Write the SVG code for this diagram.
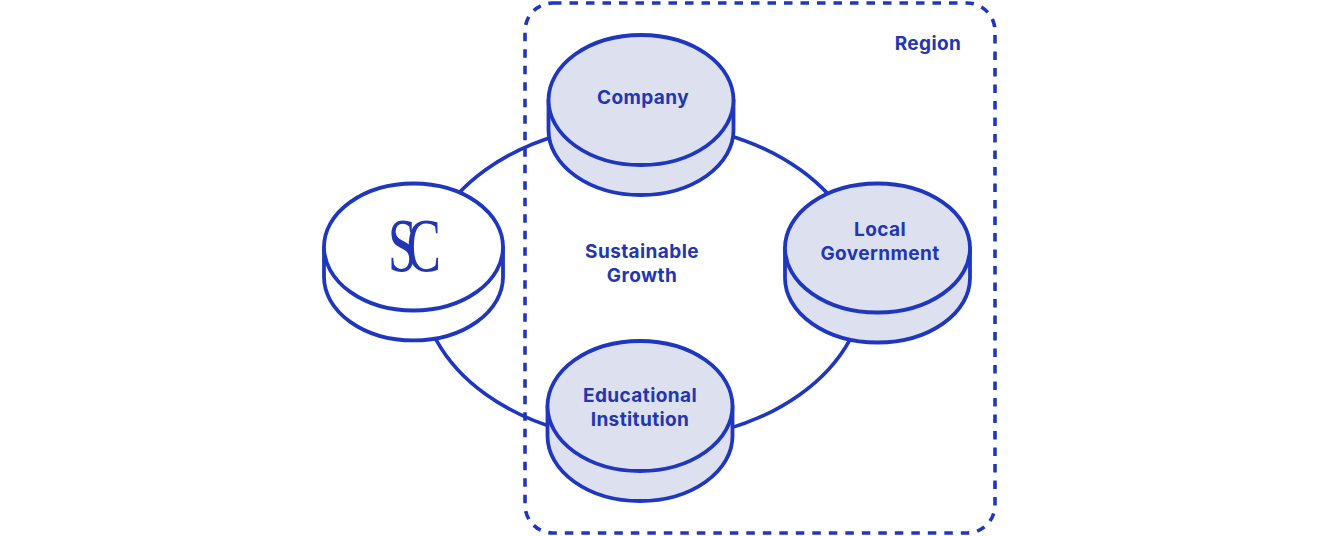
<svg xmlns="http://www.w3.org/2000/svg" width="1320" height="536" viewBox="0 0 1320 536">
<style>
.bg{fill:#ffffff}
.ln{fill:none;stroke:#1f37bf;stroke-width:3.6}
.region{fill:none;stroke:#1f37bf;stroke-width:3.6;stroke-dasharray:8.5 8}
.disc{fill:#dde0ef;stroke:#1f37bf;stroke-width:3.8;stroke-linejoin:round}
.disc.white{fill:#ffffff}
.lbl{font-family:Inter,"Noto Sans","Liberation Sans",sans-serif;font-weight:700;font-size:19px;letter-spacing:0.4px;fill:#2236b4;text-anchor:middle}
.logo{font-family:"Liberation Serif","DejaVu Serif",serif;font-size:76px;letter-spacing:-15px;fill:#2236b4}
</style>
<rect class="bg" x="0" y="0" width="1320" height="536"/>
<g id="region">
<rect class="region" x="525" y="3" width="470" height="530" rx="28"/>
<text class="lbl" x="928" y="50">Region</text>
</g>
<g id="connectors">
<ellipse class="ln" cx="643" cy="282" rx="222" ry="159"/>
</g>
<g id="center-label">
<text class="lbl" x="642" y="258">Sustainable</text>
<text class="lbl" x="642" y="282">Growth</text>
</g>
<g id="sc">
<path class="disc white" d="M324,247 L324,277 A89.5,63.5 0 0 0 503,277 L503,247 Z"/>
<ellipse class="disc white" cx="413.5" cy="247" rx="89.5" ry="63.5"/>
<text class="logo" transform="translate(388,271) scale(0.68,1)">SC</text>
</g>
<g id="company">
<path class="disc" d="M548.5,100 L548.5,130 A92.5,65 0 0 0 733.5,130 L733.5,100 Z"/>
<ellipse class="disc" cx="641" cy="100" rx="92.5" ry="65"/>
<text class="lbl" x="643" y="104">Company</text>
</g>
<g id="local-government">
<path class="disc" d="M785,248 L785,278 A92.5,64.5 0 0 0 970,278 L970,248 Z"/>
<ellipse class="disc" cx="877.5" cy="248" rx="92.5" ry="64.5"/>
<text class="lbl" x="880" y="236">Local</text>
<text class="lbl" x="880" y="260">Government</text>
</g>
<g id="educational-institution">
<path class="disc" d="M547.5,406 L547.5,436 A92.5,65 0 0 0 732.5,436 L732.5,406 Z"/>
<ellipse class="disc" cx="640" cy="406" rx="92.5" ry="65"/>
<text class="lbl" x="640" y="402">Educational</text>
<text class="lbl" x="640" y="426">Institution</text>
</g>
</svg>
